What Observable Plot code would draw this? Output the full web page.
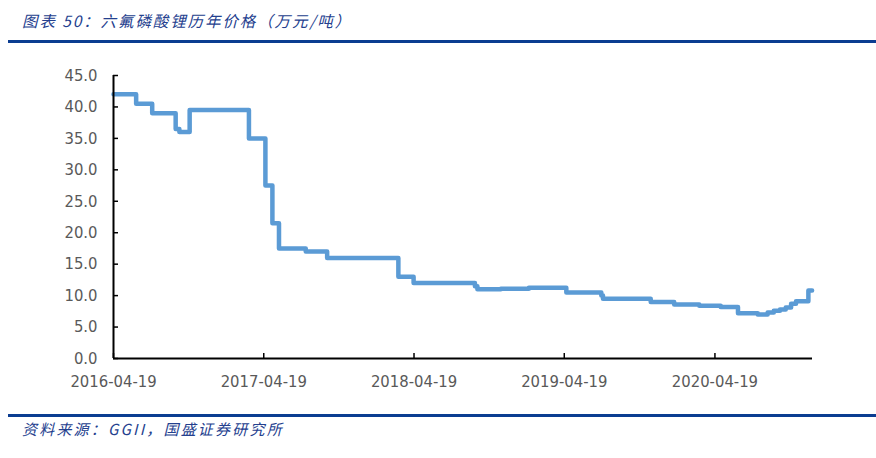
<!DOCTYPE html>
<html>
<head>
<meta charset="utf-8">
<script src="https://cdn.jsdelivr.net/npm/d3@7"></script>
<script src="https://cdn.jsdelivr.net/npm/@observablehq/plot@0.6"></script>
<style>
html, body { margin: 0; padding: 0; background: #fff; }
#wrap { position: relative; width: 876px; height: 458px; overflow: hidden; }
#chart { position: absolute; left: 0; top: 0; }
#title { position: absolute; left: 22px; top: 10px; font-family: "Noto Sans CJK SC", sans-serif; font-style: italic; font-size: 15.5px; letter-spacing: 1.9px; color: #24408E; white-space: nowrap; line-height: 20px; }
.rule { position: absolute; left: 8px; width: 868px; height: 3px; background: #0B3D91; }
#source { position: absolute; left: 22px; top: 419px; font-family: "Noto Sans CJK SC", sans-serif; font-style: italic; font-size: 15px; letter-spacing: 2.2px; color: #24408E; white-space: nowrap; line-height: 20px; }
</style>
</head>
<body>
<div id="wrap">
  <div id="chart"></div>
  <div id="title">图表 50：六氟磷酸锂历年价格（万元/吨）</div>
  <div class="rule" style="top:40px"></div>
  <div class="rule" style="top:414px"></div>
  <div id="source">资料来源：GGII，国盛证券研究所</div>
</div>
<script>
// Step dates (price change points) and prices, 万元/吨
const dates = [
  "2016-04-19", "2016-06-13", "2016-07-22", "2016-09-17", "2016-09-26",
  "2016-10-21", "2017-03-14", "2017-04-23", "2017-05-10", "2017-05-26",
  "2017-07-30", "2017-09-20", "2018-03-12", "2018-04-18", "2018-09-14",
  "2018-09-20", "2018-11-16", "2019-01-23", "2019-04-24", "2019-07-18",
  "2019-07-22", "2019-11-15", "2020-01-11", "2020-03-12", "2020-05-03",
  "2020-06-14", "2020-08-01", "2020-08-25", "2020-09-09", "2020-09-24",
  "2020-10-08", "2020-10-21", "2020-11-02", "2020-12-02", "2020-12-11"
];
const prices = [
  42.0, 40.5, 39.0, 36.5, 36.0,
  39.5, 35.0, 27.5, 21.5, 17.5,
  17.0, 16.0, 13.0, 12.0, 11.5,
  11.0, 11.1, 11.25, 10.5, 10.0,
  9.5, 9.0, 8.6, 8.4, 8.2,
  7.2, 7.0, 7.3, 7.6, 7.8,
  8.1, 8.7, 9.1, 10.8, 10.8
];
const xTickLabels = ["2016-04-19", "2017-04-19", "2018-04-19", "2019-04-19", "2020-04-19"];
const yTicks = [0, 5, 10, 15, 20, 25, 30, 35, 40, 45];
const xStart = "2016-04-19";
const xEnd = "2020-12-12";

const parse = d3.utcParse("%Y-%m-%d");
const data = dates.map((d, i) => ({date: parse(d), price: prices[i]}));

const chart = Plot.plot({
  width: 876,
  height: 458,
  marginLeft: 113,
  marginRight: 64,
  marginTop: 75,
  marginBottom: 100,
  style: {fontFamily: "'DejaVu Sans Condensed', 'DejaVu Sans', sans-serif", fontSize: "16.5px", color: "#595959", background: "transparent", overflow: "visible"},
  x: {type: "utc", domain: [parse(xStart), parse(xEnd)]},
  y: {domain: [0, 45]},
  marks: [
    Plot.axisY({ticks: yTicks, tickFormat: d3.format(".1f"), tickSize: -5, tickPadding: 21, stroke: "#000", strokeWidth: 1.5, fill: "#595959", label: null}),
    Plot.axisX({ticks: xTickLabels.map(parse), tickFormat: d3.utcFormat("%Y-%m-%d"), tickSize: -5, tickPadding: 22, stroke: "#000", strokeWidth: 1.5, fill: "#595959", label: null}),
    Plot.lineY(data, {x: "date", y: "price", curve: "step-after", stroke: "#5B9BD5", strokeWidth: 4.5, strokeLinejoin: "round"}),
    Plot.ruleX([parse(xStart)], {stroke: "#000", strokeWidth: 2}),
    Plot.ruleY([0], {stroke: "#000", strokeWidth: 2})
  ]
});
document.getElementById("chart").appendChild(chart);
</script>
</body>
</html>
